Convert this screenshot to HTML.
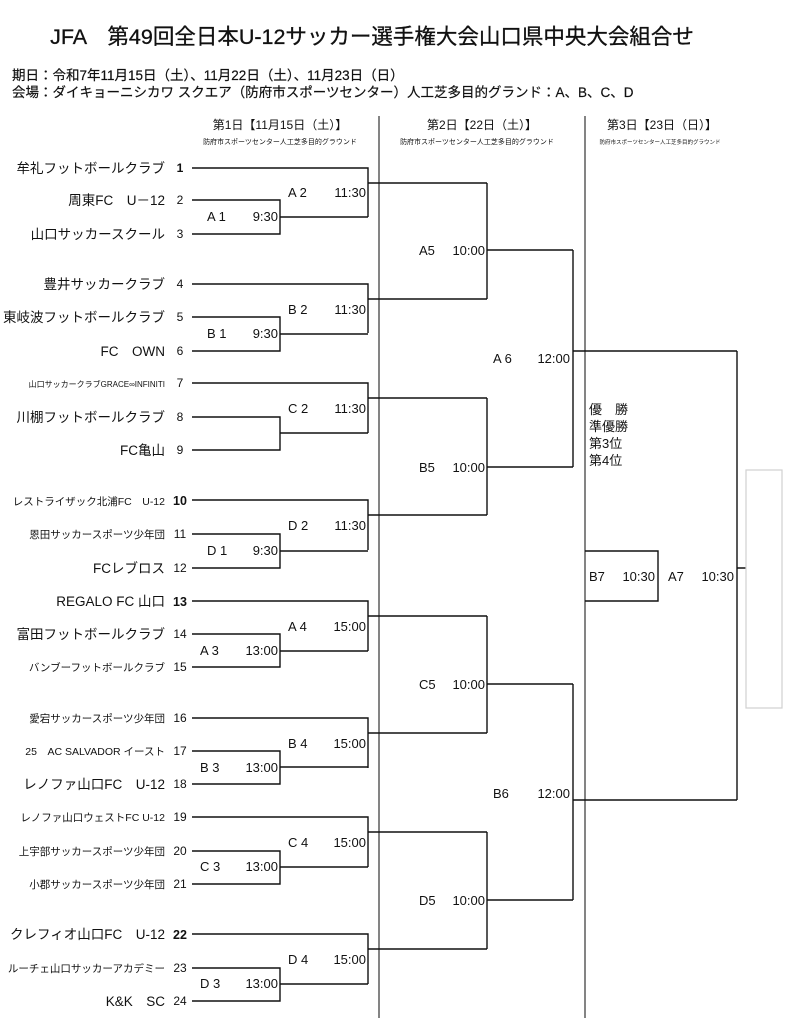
<!DOCTYPE html>
<html><head><meta charset="utf-8"><style>
html,body{margin:0;padding:0;background:#fff}
svg{display:block}
text{font-family:"Liberation Sans","Noto Sans CJK JP",sans-serif;fill:#111}
</style></head><body>
<svg width="804" height="1024" viewBox="0 0 804 1024" xmlns="http://www.w3.org/2000/svg">
<text x="372" y="44" font-size="21.5" text-anchor="middle" stroke="#111" stroke-width="0.3">JFA　第49回全日本U-12サッカー選手権大会山口県中央大会組合せ</text>
<text x="12" y="80" font-size="13.5" stroke="#111" stroke-width="0.2">期日：令和7年11月15日（土）、11月22日（土）、11月23日（日）</text>
<text x="12" y="97" font-size="13.5" stroke="#111" stroke-width="0.2">会場：ダイキョーニシカワ スクエア（防府市スポーツセンター）人工芝多目的グランド：A、B、C、D</text>

<text x="280" y="129" font-size="12" text-anchor="middle">第1日【11月15日（土）】</text>
<text x="280" y="144" font-size="7" text-anchor="middle">防府市スポーツセンター人工芝多目的グラウンド</text>
<text x="482" y="129" font-size="12" text-anchor="middle">第2日【22日（土）】</text>
<text x="477" y="144" font-size="7" text-anchor="middle">防府市スポーツセンター人工芝多目的グラウンド</text>
<text x="662" y="129" font-size="12" text-anchor="middle">第3日【23日（日）】</text>
<text x="660" y="144" font-size="5.5" text-anchor="middle">防府市スポーツセンター人工芝多目的グラウンド</text>

<g stroke="#333" stroke-width="1.2" fill="none">
<line x1="379" y1="116" x2="379" y2="1018"/>
<line x1="585" y1="116" x2="585" y2="1018"/>
</g>

<g stroke="#111" stroke-width="1.4" fill="none">
<path d="M192 168H368V217M192 200H280V234H192M280 217H368M368 183H487"/>
<path d="M192 284H368V333M192 317H280V351H192M280 334H368M368 299H487"/>
<path d="M192 383H368V433M192 417H280V450H192M280 433H368M368 398H487"/>
<path d="M192 500H368V550M192 534H280V568H192M280 551H368M368 515H487"/>
<path d="M192 601H368V651M192 634H280V667H192M280 651H368M368 616H487"/>
<path d="M192 718H368V768M192 751H280V784H192M280 767H368M368 733H487"/>
<path d="M192 817H368V867M192 851H280V884H192M280 867H368M368 832H487"/>
<path d="M192 934H368V984M192 968H280V1001H192M280 984H368M368 949H487"/>
<path d="M487 183V299M487 250H573"/>
<path d="M487 398V515M487 467H573"/>
<path d="M487 616V733M487 684H573"/>
<path d="M487 832V949M487 900H573"/>
<path d="M573 250V467M573 351H737"/>
<path d="M573 684V900M573 800H737"/>
<path d="M737 351V800M737 568H746"/>
<path d="M585 551H658V601H585"/>
</g>
<rect x="746" y="470" width="36" height="238" fill="none" stroke="#d0d0d0" stroke-width="1.2"/>

<g font-size="13.5" text-anchor="end">
<text x="165" y="173">牟礼フットボールクラブ</text>
<text x="165" y="205">周東FC　U－12</text>
<text x="165" y="239">山口サッカースクール</text>
<text x="165" y="289">豊井サッカークラブ</text>
<text x="165" y="322">東岐波フットボールクラブ</text>
<text x="165" y="356">FC　OWN</text>
<text x="165" y="422">川棚フットボールクラブ</text>
<text x="165" y="455">FC亀山</text>
<text x="165" y="573">FCレブロス</text>
<text x="165" y="606">REGALO FC 山口</text>
<text x="165" y="639">富田フットボールクラブ</text>
<text x="165" y="789">レノファ山口FC　U-12</text>
<text x="165" y="939">クレフィオ山口FC　U-12</text>
<text x="165" y="1006">K&amp;K　SC</text>
</g>
<g font-size="10.5" text-anchor="end">
<text x="165" y="505">レストライザック北浦FC　U-12</text>
<text x="165" y="538">恩田サッカースポーツ少年団</text>
<text x="165" y="671">バンブーフットボールクラブ</text>
<text x="165" y="722">愛宕サッカースポーツ少年団</text>
<text x="165" y="755">25　AC SALVADOR イースト</text>
<text x="165" y="821">レノファ山口ウェストFC U-12</text>
<text x="165" y="855">上宇部サッカースポーツ少年団</text>
<text x="165" y="888">小郡サッカースポーツ少年団</text>
<text x="165" y="972">ルーチェ山口サッカーアカデミー</text>
</g>
<text x="165" y="387" font-size="8" text-anchor="end">山口サッカークラブGRACE∞INFINITI</text>

<g font-size="12" text-anchor="middle">
<text x="180" y="172" font-weight="bold">1</text>
<text x="180" y="204">2</text>
<text x="180" y="238">3</text>
<text x="180" y="288">4</text>
<text x="180" y="321">5</text>
<text x="180" y="355">6</text>
<text x="180" y="387">7</text>
<text x="180" y="421">8</text>
<text x="180" y="454">9</text>
<text x="180" y="505" font-weight="bold" font-size="12.5">10</text>
<text x="180" y="538">11</text>
<text x="180" y="572">12</text>
<text x="180" y="606" font-weight="bold" font-size="12.5">13</text>
<text x="180" y="638">14</text>
<text x="180" y="671">15</text>
<text x="180" y="722">16</text>
<text x="180" y="755">17</text>
<text x="180" y="788">18</text>
<text x="180" y="821">19</text>
<text x="180" y="855">20</text>
<text x="180" y="888">21</text>
<text x="180" y="939" font-weight="bold" font-size="12.5">22</text>
<text x="180" y="972">23</text>
<text x="180" y="1005">24</text>
</g>

<g font-size="13">
<text x="288" y="197">A 2</text><text x="366" y="197" text-anchor="end">11:30</text>
<text x="207" y="221">A 1</text><text x="278" y="221" text-anchor="end">9:30</text>
<text x="288" y="314">B 2</text><text x="366" y="314" text-anchor="end">11:30</text>
<text x="207" y="338">B 1</text><text x="278" y="338" text-anchor="end">9:30</text>
<text x="288" y="413">C 2</text><text x="366" y="413" text-anchor="end">11:30</text>
<text x="288" y="530">D 2</text><text x="366" y="530" text-anchor="end">11:30</text>
<text x="207" y="555">D 1</text><text x="278" y="555" text-anchor="end">9:30</text>
<text x="288" y="631">A 4</text><text x="366" y="631" text-anchor="end">15:00</text>
<text x="200" y="655">A 3</text><text x="278" y="655" text-anchor="end">13:00</text>
<text x="288" y="748">B 4</text><text x="366" y="748" text-anchor="end">15:00</text>
<text x="200" y="772">B 3</text><text x="278" y="772" text-anchor="end">13:00</text>
<text x="288" y="847">C 4</text><text x="366" y="847" text-anchor="end">15:00</text>
<text x="200" y="871">C 3</text><text x="278" y="871" text-anchor="end">13:00</text>
<text x="288" y="964">D 4</text><text x="366" y="964" text-anchor="end">15:00</text>
<text x="200" y="988">D 3</text><text x="278" y="988" text-anchor="end">13:00</text>

<text x="419" y="255">A5</text><text x="485" y="255" text-anchor="end">10:00</text>
<text x="419" y="472">B5</text><text x="485" y="472" text-anchor="end">10:00</text>
<text x="419" y="689">C5</text><text x="485" y="689" text-anchor="end">10:00</text>
<text x="419" y="905">D5</text><text x="485" y="905" text-anchor="end">10:00</text>
<text x="493" y="363">A 6</text><text x="570" y="363" text-anchor="end">12:00</text>
<text x="493" y="798">B6</text><text x="570" y="798" text-anchor="end">12:00</text>

<text x="589" y="581">B7</text><text x="655" y="581" text-anchor="end">10:30</text>
<text x="668" y="581">A7</text><text x="734" y="581" text-anchor="end">10:30</text>

<text x="589" y="414">優　勝</text>
<text x="589" y="431">準優勝</text>
<text x="589" y="448">第3位</text>
<text x="589" y="465">第4位</text>
</g>
</svg>
</body></html>
